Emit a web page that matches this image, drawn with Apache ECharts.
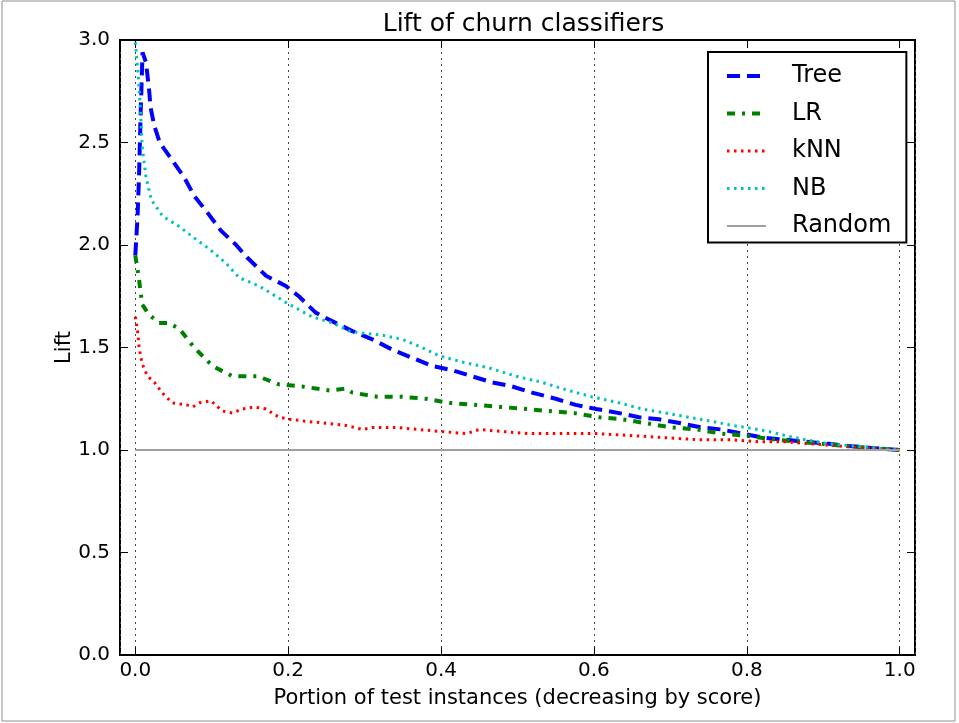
<!DOCTYPE html>
<html><head><meta charset="utf-8">
<script src="https://cdn.jsdelivr.net/npm/echarts@6/dist/echarts.min.js"></script>
<style>html,body{margin:0;padding:0;background:#fff}#c{width:959px;height:723px}</style>
</head><body><div id="c"></div>
<script>
const titleText = 'Lift of churn classifiers';
const xName = 'Portion of test instances (decreasing by score)';
const yName = 'Lift';
const seriesNames = ['Tree', 'LR', 'kNN', 'NB', 'Random'];

const treeX = [0,0.003,0.005,0.007,0.0095,0.014,0.018,0.02,0.025,0.032,0.047,0.064,0.077,0.094,0.112,0.132,0.146,0.171,0.197,0.214,0.236,0.262,0.284,0.31,0.336,0.362,0.388,0.414,0.44,0.467,0.493,0.519,0.55,0.576,0.603,0.633,0.659,0.685,0.714,0.741,0.767,0.794,0.822,0.851,0.877,0.907,0.933,0.963,1.0];
const treeY = [1.95,2.14,2.35,2.64,2.94,2.89,2.76,2.67,2.58,2.50,2.42,2.33,2.24,2.16,2.07,2.00,1.94,1.85,1.80,1.75,1.67,1.62,1.58,1.54,1.49,1.45,1.41,1.39,1.36,1.33,1.31,1.28,1.25,1.22,1.20,1.18,1.16,1.15,1.13,1.11,1.10,1.08,1.06,1.05,1.04,1.03,1.02,1.01,1.00];

const lrX = [0,0.005,0.009,0.018,0.031,0.044,0.058,0.077,0.101,0.127,0.145,0.16,0.188,0.218,0.254,0.276,0.284,0.316,0.348,0.38,0.41,0.446,0.478,0.511,0.541,0.574,0.607,0.637,0.669,0.702,0.735,0.767,0.799,0.838,0.868,0.898,0.929,0.963,1.0];
const lrY = [1.95,1.83,1.71,1.66,1.62,1.62,1.59,1.50,1.41,1.36,1.36,1.36,1.32,1.31,1.29,1.30,1.28,1.26,1.26,1.25,1.23,1.22,1.21,1.20,1.19,1.18,1.16,1.15,1.13,1.11,1.10,1.08,1.07,1.05,1.04,1.03,1.02,1.01,1.00];

const knnX = [0,0.003,0.005,0.009,0.016,0.025,0.035,0.048,0.067,0.075,0.084,0.099,0.114,0.127,0.14,0.155,0.171,0.188,0.201,0.224,0.25,0.276,0.297,0.31,0.341,0.371,0.401,0.433,0.45,0.48,0.515,0.55,0.603,0.65,0.694,0.737,0.78,0.816,0.851,0.885,0.92,0.956,1.0];
const knnY = [1.65,1.58,1.50,1.42,1.36,1.33,1.28,1.23,1.22,1.21,1.23,1.24,1.19,1.18,1.20,1.21,1.20,1.16,1.15,1.14,1.13,1.12,1.10,1.11,1.11,1.10,1.09,1.08,1.10,1.09,1.08,1.08,1.08,1.07,1.06,1.05,1.05,1.04,1.04,1.03,1.02,1.01,1.00];

const nbX = [0,0.004,0.007,0.009,0.014,0.021,0.036,0.0575,0.075,0.097,0.119,0.136,0.162,0.197,0.231,0.258,0.28,0.297,0.323,0.349,0.375,0.397,0.427,0.463,0.498,0.532,0.567,0.597,0.633,0.663,0.694,0.724,0.754,0.78,0.799,0.829,0.851,0.877,0.907,0.937,0.969,1.0];
const nbY = [2.99,2.82,2.64,2.48,2.33,2.22,2.14,2.09,2.04,1.98,1.91,1.84,1.80,1.72,1.65,1.62,1.58,1.57,1.56,1.54,1.50,1.46,1.43,1.40,1.36,1.33,1.29,1.26,1.23,1.20,1.18,1.16,1.14,1.12,1.11,1.09,1.07,1.05,1.03,1.02,1.01,1.00];

const randomX = [0, 1];
const randomY = [1, 1];

const yTicks = [0, 0.5, 1.0, 1.5, 2.0, 2.5, 3.0];

function pairs(xs, ys) { return xs.map((x, i) => [x, ys[i]]); }

const F = 'DejaVu Sans';
const styles = {
  Tree:   {color:'#0000ff', width:4, type:[13,7]},
  LR:     {color:'#008000', width:4, type:[8,7,3,7]},
  kNN:    {color:'#ff0000', width:3, type:[2.5,4.5]},
  NB:     {color:'#00c0c0', width:3, type:[2.5,4.5]},
  Random: {color:'#a0a0a0', width:2, type:'solid'}
};
const dataMap = {
  Tree: pairs(treeX, treeY), LR: pairs(lrX, lrY), kNN: pairs(knnX, knnY),
  NB: pairs(nbX, nbY), Random: pairs(randomX, randomY)
};

const chart = echarts.init(document.getElementById('c'));
const tick = {show:true, inside:true, length:8, lineStyle:{color:'#000', width:1}};
const noLine = {show:false, onZero:false};
chart.setOption({
  animation: false,
  backgroundColor: '#fff',
  title: {text: titleText, left: 518.5, textAlign: 'center', top: 7,
    textStyle: {fontFamily: F, fontSize: 25, fontWeight: 'normal', color: '#000'}},
  grid: {left: 120, right: 44, top: 40, bottom: 68, show: true, borderColor: '#000', borderWidth: 2, backgroundColor: 'transparent'},
  legend: {orient: 'vertical', left: 708, top: 52, padding: [12, 15, 4.5, 17],
    itemWidth: 39, itemHeight: 14, itemGap: 13.5,
    itemStyle: {color: 'transparent', borderWidth: 0, opacity: 0},
    lineStyle: {width: 'inherit', type: 'inherit'},
    backgroundColor: '#fff', borderColor: '#000', borderWidth: 2,
    data: seriesNames.map(n => ({name: n, lineStyle: {width: styles[n].width}})),
    textStyle: {fontFamily: F, fontSize: 24, lineHeight: 24, color: '#000', padding: [0, 0, 0, 21]}},
  xAxis: [
    {type: 'value', min: -0.02, max: 1.02, splitNumber: 5, position: 'bottom',
     axisLine: noLine, axisTick: tick,
     axisLabel: {fontFamily: F, fontSize: 20, color: '#000', margin: 6, showMinLabel: false, showMaxLabel: false,
       formatter: v => (v < 0 || v > 1) ? '' : v.toFixed(1)},
     splitLine: {show: true, lineStyle: {color: '#444', width: 1, type: [2, 4]}},
     name: xName, nameLocation: 'middle', nameGap: 33, nameMoveOverlap: false,
     nameTextStyle: {fontFamily: F, fontSize: 21, color: '#000'}},
    {type: 'value', min: -0.02, max: 1.02, splitNumber: 5, position: 'top',
     axisLine: noLine, axisTick: tick, axisLabel: {show: false}, splitLine: {show: false}}
  ],
  yAxis: [
    {type: 'value', min: yTicks[0], max: yTicks[yTicks.length - 1], interval: 0.5, position: 'left',
     axisLine: noLine, axisTick: tick,
     axisLabel: {fontFamily: F, fontSize: 20, color: '#000', margin: 10, formatter: v => v.toFixed(1)},
     splitLine: {show: false},
     name: yName, nameLocation: 'middle', nameGap: 45, nameRotate: 90, nameMoveOverlap: false,
     nameTextStyle: {fontFamily: F, fontSize: 21, color: '#000'}},
    {type: 'value', min: yTicks[0], max: yTicks[yTicks.length - 1], interval: 0.5, position: 'right',
     axisLine: noLine, axisTick: tick, axisLabel: {show: false}, splitLine: {show: false}}
  ],
  graphic: [{type: 'rect', shape: {x: 2, y: 1, width: 953, height: 720}, style: {fill: 'none', stroke: '#909090', lineWidth: 1}, silent: true}],
  series: seriesNames.map(n => ({
    name: n, type: 'line', data: dataMap[n], showSymbol: false, symbol: 'none',
    xAxisIndex: 0, yAxisIndex: 0, clip: true,
    lineStyle: styles[n], itemStyle: {color: styles[n].color}
  }))
});
</script></body></html>
